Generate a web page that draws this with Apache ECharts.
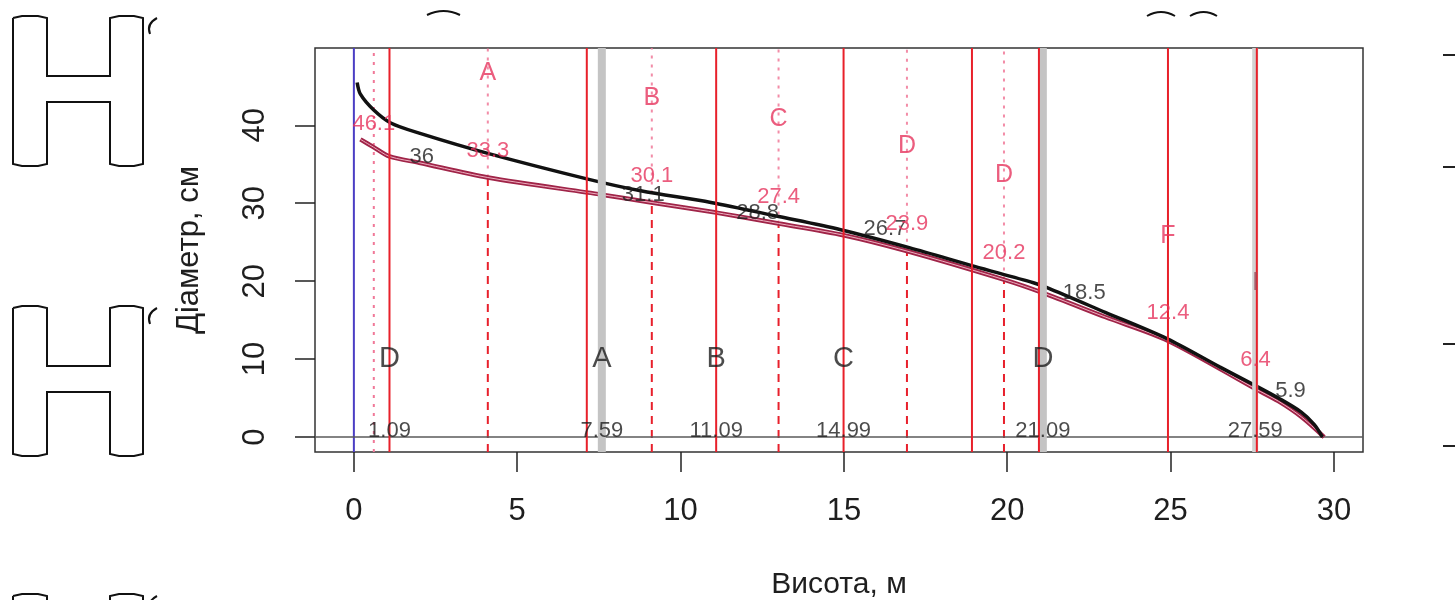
<!DOCTYPE html>
<html>
<head>
<meta charset="utf-8">
<script src="https://cdn.jsdelivr.net/npm/echarts@6/dist/echarts.min.js"></script>
<style>
  html, body { margin: 0; padding: 0; background: #ffffff; }
  #chart { width: 1455px; height: 600px; }
</style>
</head>
<body>
<div id="chart"></div>
<script>
// Stem profile over bark: [height, m ; diameter, cm]
const outerProfile = [
  [0.1, 45.5], [0.2, 44.0], [0.6, 42.0], [1.13, 40.3], [2.0, 39.0], [4.1, 36.4],
  [7.16, 33.1], [8.78, 31.6], [10.93, 30.1], [13.0, 28.3], [14.9, 26.6], [17.0, 24.3],
  [19.0, 21.9], [20.8, 19.8], [21.2, 19.2], [23.0, 16.0], [24.9, 12.6], [26.5, 9.0],
  [27.55, 6.7], [28.3, 5.0], [29.0, 3.2], [29.4, 1.6], [29.65, 0]
];
// Stem profile under bark
const innerProfile = [
  [0.2, 38.2], [0.6, 37.2], [1.09, 36.0], [2.0, 35.2], [4.1, 33.3], [7.59, 31.1],
  [9.1, 30.1], [11.09, 28.8], [13.0, 27.4], [14.99, 25.9], [16.9, 23.9], [19.9, 20.2],
  [21.09, 18.5], [23.0, 15.4], [24.9, 12.4], [27.59, 6.2], [28.3, 4.6], [29.0, 2.6], [29.7, 0]
];

// Log boundaries (bottom labels), grade letters and diameters at the cut
const cutHeights = [1.09, 7.59, 11.09, 14.99, 21.09, 27.59];
const cutLetters = ['D', 'A', 'B', 'C', 'D', ''];
const cutDiameters = [36, 31.1, 28.8, 26.7, 18.5, 5.9];

// Mid-log measurement heights, their diameters and grade letters
const midHeights = [0.61, 4.1, 9.12, 13.0, 16.93, 19.9, 24.92, 27.6];
const midDiameters = [46.1, 33.3, 30.1, 27.4, 23.9, 20.2, 12.4, 6.4];
const midLetters = ['', 'A', 'B', 'C', 'D', 'D', 'F', 'I'];

// Solid section lines and grey log-end markers
const sectionLines = [1.09, 7.13, 11.09, 14.99, 18.92, 20.97, 24.92, 27.64];
const logEnds = [7.59, 21.09, 27.59];

const xTicks = [0, 5, 10, 15, 20, 25, 30];
const yTicks = [0, 10, 20, 30, 40];

const X_MIN = -1.19, X_MAX = 30.89, Y_MIN = -1.92, Y_MAX = 49.92;
const LETTER_ROW = 10;
const FONT = '"Liberation Sans", Arial, sans-serif';
const RED_TEXT = '#e6355e';
const INK = '#1e1e1e';

function vline(x, y0, y1, color, width, type, z, opacity) {
  return {
    type: 'line', data: [[x, y0], [x, y1]], symbol: 'none', silent: true,
    z: z, animation: false,
    lineStyle: { color: color, width: width, type: type, opacity: opacity == null ? 1 : opacity }
  };
}

const series = [];

// dashed lower / dotted upper mid-log lines
midHeights.forEach(function (h, i) {
  if (i === 0) {
    series.push(vline(h, Y_MIN, Y_MAX, '#f07898', 2, [3, 6], 1));
  } else if (i <= 5) {
    series.push(vline(h, Y_MIN, midDiameters[i], '#e8202c', 2, [8, 6], 1));
    series.push(vline(h, midDiameters[i], Y_MAX, '#f07898', 2, [3, 6], 1, 0.85));
  }
});

// zero lines
series.push(vline(0, Y_MIN, Y_MAX, '#4b3ec4', 2, 'solid', 2));
series.push({
  type: 'line', data: [[X_MIN, 0], [X_MAX, 0]], symbol: 'none', silent: true, z: 2,
  animation: false, lineStyle: { color: '#5a5a5a', width: 1.5 }
});

// profiles
series.push({
  type: 'line', data: innerProfile, smooth: 0.3, symbol: 'none', z: 3, animation: false,
  lineStyle: { color: '#a02448', width: 4.5 }
});
series.push({
  type: 'line', data: innerProfile, smooth: 0.3, symbol: 'none', z: 4, animation: false,
  lineStyle: { color: '#eeb0c0', width: 1 }
});
series.push({
  type: 'line', data: outerProfile, smooth: 0.3, symbol: 'none', z: 5, animation: false,
  lineStyle: { color: '#111111', width: 3.5 }
});

// grey log ends and red section lines
logEnds.forEach(function (h, i) {
  series.push(vline(h, Y_MIN, Y_MAX, i === 2 ? '#d2d2d2' : '#c4c4c4', i === 2 ? 6 : 8, 'solid', 6));
});
sectionLines.forEach(function (h) {
  series.push(vline(h, Y_MIN, Y_MAX, '#e8202a', 2, 'solid', 7));
});

// height labels at log ends
series.push({
  type: 'scatter', symbolSize: 0, z: 10, silent: true, animation: false,
  data: cutHeights.map(function (h) {
    return { value: [h, 0], label: { formatter: h.toFixed(2) } };
  }),
  label: { show: true, position: 'top', distance: -5, color: INK, fontSize: 22, fontFamily: FONT }
});
// diameters at log ends
series.push({
  type: 'scatter', symbolSize: 0, z: 10, silent: true, animation: false,
  data: cutHeights.map(function (h, i) {
    return { value: [h, cutDiameters[i]], label: { formatter: String(cutDiameters[i]) } };
  }),
  label: { show: true, position: 'right', distance: 20, color: INK, fontSize: 22, fontFamily: FONT }
});
// grade letters at log ends
series.push({
  type: 'scatter', symbolSize: 0, z: 10, silent: true, animation: false,
  data: cutHeights.map(function (h, i) {
    return { value: [h, LETTER_ROW], label: { formatter: cutLetters[i] } };
  }),
  label: { show: true, position: 'inside', color: INK, fontSize: 29, fontFamily: FONT }
});
// mid-log diameters
series.push({
  type: 'scatter', symbolSize: 0, z: 10, silent: true, animation: false,
  data: midHeights.map(function (h, i) {
    const item = { value: [h, midDiameters[i]], label: { formatter: String(midDiameters[i]) } };
    if (i === 0) { item.label.position = 'bottom'; item.label.distance = 35; }
    return item;
  }),
  label: { show: true, position: 'top', distance: 16, color: RED_TEXT, fontSize: 22, fontFamily: FONT }
});
// mid-log grade letters
series.push({
  type: 'scatter', symbolSize: 0, z: 10, silent: true, animation: false,
  data: midHeights.map(function (h, i) {
    return {
      value: [h, midDiameters[i]],
      label: { formatter: midLetters[i], color: i === 7 ? '#9a4a5a' : RED_TEXT }
    };
  }),
  label: { show: true, position: 'top', distance: 92, fontSize: 25, fontFamily: FONT }
});

// outline glyph shapes in the left margin
function hShape(y0) {
  return [
    [13, y0 + 2], [22, y0], [38, y0], [47, y0 + 2],
    [47, y0 + 60], [110, y0 + 60], [110, y0 + 2],
    [119, y0], [134, y0], [143, y0 + 2],
    [143, y0 + 148], [134, y0 + 150], [119, y0 + 150], [110, y0 + 148],
    [110, y0 + 86], [47, y0 + 86], [47, y0 + 148],
    [38, y0 + 150], [22, y0 + 150], [13, y0 + 148], [13, y0 + 2]
  ];
}
const stroke = { stroke: '#111', lineWidth: 2, fill: null };
const graphic = [];
[16, 306, 594].forEach(function (y0) {
  graphic.push({ type: 'polyline', shape: { points: hShape(y0) }, style: stroke });
  graphic.push({
    type: 'bezierCurve',
    shape: { x1: 150, y1: y0 + 18, cpx1: 146, cpy1: y0 + 8, x2: 157, y2: y0 + 2 },
    style: stroke
  });
});
[[427, 460, 12], [1147, 1175, 13], [1190, 1217, 13]].forEach(function (a) {
  graphic.push({
    type: 'bezierCurve',
    shape: { x1: a[0], y1: a[2] + 3, cpx1: (a[0] + a[1]) / 2, cpy1: a[2] - 5, x2: a[1], y2: a[2] + 3 },
    style: stroke
  });
});
[55, 167, 344, 446].forEach(function (y) {
  graphic.push({ type: 'line', shape: { x1: 1443, y1: y, x2: 1455, y2: y }, style: { stroke: '#222', lineWidth: 2 } });
});

const chart = echarts.init(document.getElementById('chart'), null, { renderer: 'canvas' });
chart.setOption({
  backgroundColor: '#ffffff',
  animation: false,
  grid: {
    left: 315, top: 48, width: 1048, height: 404,
    outerBoundsMode: 'none', containLabel: false,
    show: true, borderColor: '#333', borderWidth: 1.5, backgroundColor: 'transparent'
  },
  xAxis: {
    type: 'value', min: X_MIN, max: X_MAX,
    name: 'Висота, м', nameLocation: 'middle', nameGap: 118,
    nameTextStyle: { fontSize: 30, color: INK, fontFamily: FONT },
    axisLine: { show: false, onZero: false },
    splitLine: { show: false },
    axisTick: { show: true, length: 20, customValues: xTicks, lineStyle: { color: '#222', width: 1.5 } },
    axisLabel: { customValues: xTicks, margin: 44, fontSize: 31, color: INK, fontFamily: FONT }
  },
  yAxis: {
    type: 'value', min: Y_MIN, max: Y_MAX,
    name: 'Діаметр, см', nameLocation: 'middle', nameGap: 110, nameRotate: 90,
    nameTextStyle: { fontSize: 31, color: INK, fontFamily: FONT },
    axisLine: { show: false, onZero: false },
    splitLine: { show: false },
    axisTick: { show: true, length: 20, customValues: yTicks, lineStyle: { color: '#222', width: 1.5 } },
    axisLabel: { customValues: yTicks, rotate: 90, margin: 44, fontSize: 31, color: INK, fontFamily: FONT }
  },
  series: series,
  graphic: graphic
});
</script>
</body>
</html>
